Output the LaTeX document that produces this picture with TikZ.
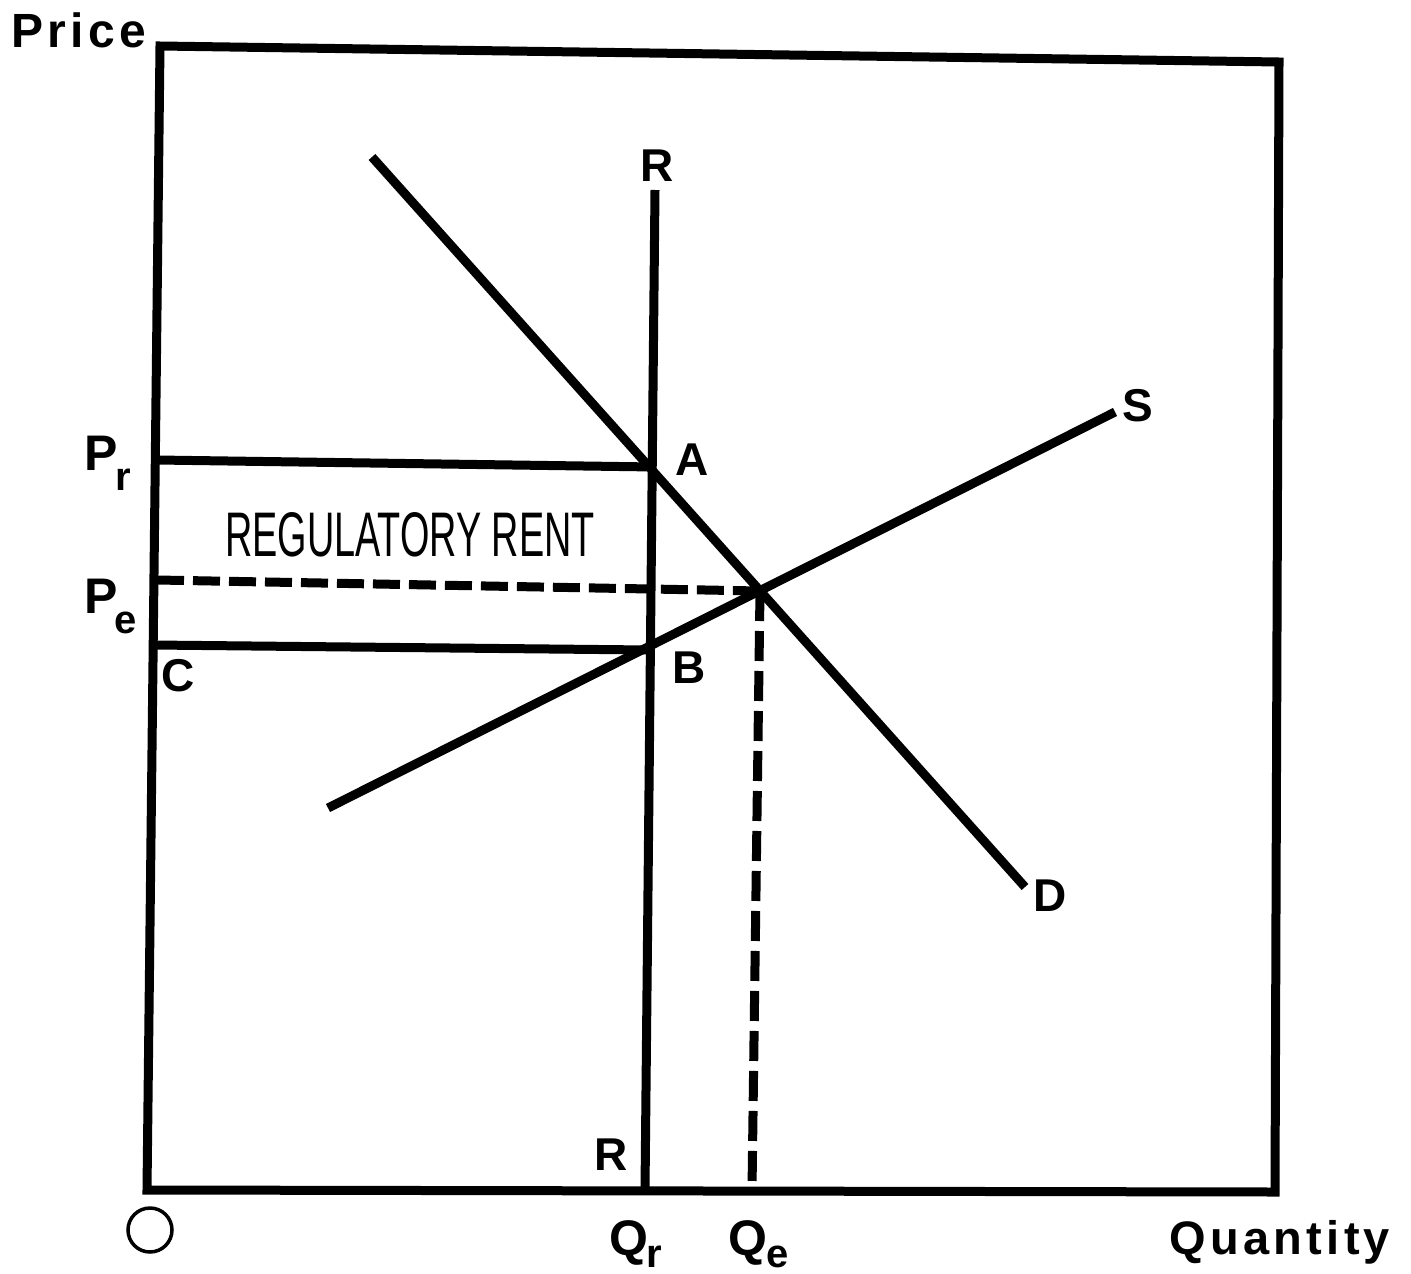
\documentclass[tikz,border=0pt]{standalone}
\usepackage{fontspec}
\setmainfont{Liberation Sans}
\newcommand\lbl{\fontsize{46}{46}\selectfont\bfseries}
\newcommand\sbl{\fontsize{40}{40}\selectfont\bfseries}
\newcommand\spaced{\addfontfeature{LetterSpace=9}}
\begin{document}
\begin{tikzpicture}[x=1pt,y=-1pt,
  curve/.style={line width=9pt},
  dashline/.style={line width=9pt, dash pattern=on 27pt off 9pt},
  txt/.style={inner sep=0pt, font=\lbl}]
\useasboundingbox (0,0) rectangle (1411,1274);
% frame
\coordinate (tl) at (160,46);
\coordinate (tr) at (1279,62);
\coordinate (br) at (1275,1192);
\coordinate (bl) at (147,1190);
\draw[curve, line join=miter] (tl) -- (tr) -- (br) -- (bl) -- cycle;
% axis labels
\node[txt, font=\fontsize{48}{48}\selectfont\bfseries\spaced] (price) at (79,30) {Price};
\node[txt, font=\fontsize{47}{47}\selectfont\bfseries\spaced] (qty) at (1280,1242) {Quantity};
\draw[line width=3.5pt] (150,1230) circle[radius=22pt];
\node[inner sep=0pt] (origin) at (150,1230) {};
% R line
\coordinate (rtop) at (655,190);
\coordinate (rbot) at (645,1190);
\draw[curve] (rtop) -- (rbot);
\node[txt] (rlabtop) at (657,166) {R};
\node[txt] (rlabbot) at (611,1155) {R};
% demand and supply
\coordinate (d1) at (372,157);
\coordinate (d2) at (1025,887);
\coordinate (s1) at (328,808);
\coordinate (s2) at (1115,412);
\draw[curve] (d1) -- (d2);
\draw[curve] (s1) -- (s2);
\node[txt] (dlab) at (1050,896) {D};
\node[txt] (slab) at (1138,406) {S};
% price lines
\coordinate (pr0) at (157,460);
\coordinate (prA) at (655,467);
\coordinate (c0) at (153,645);
\coordinate (cB) at (649,650);
\coordinate (pe0) at (157,580);
\coordinate (E) at (760,591);
\coordinate (qe) at (752,1190);
\draw[curve] (pr0) -- (prA);
\draw[curve] (c0) -- (cB);
\draw[dashline] (pe0) -- (E);
\draw[dashline, dash pattern=on 30pt off 10pt] (E) -- (qe);
% point labels
\node[txt] (alab) at (692,460) {A};
\node[txt] (blab) at (689,668) {B};
\node[txt] (clab) at (178,676) {C};
% axis value labels
\node[txt, anchor=base west, font=\fontsize{50}{50}\selectfont\bfseries] (prlab) at (84,470) {P\kern-2pt\raisebox{-20pt}{\sbl r}};
\node[txt, anchor=base west, font=\fontsize{50}{50}\selectfont\bfseries] (pelab) at (84,613) {P\kern-3pt\raisebox{-20pt}{\sbl e}};
\node[txt, anchor=base west, font=\fontsize{50}{50}\selectfont\bfseries] (qrlab) at (609,1255) {Q\kern-2pt\raisebox{-12pt}{\sbl r}};
\node[txt, anchor=base west, font=\fontsize{50}{50}\selectfont\bfseries] (qelab) at (728,1255) {Q\kern-1pt\raisebox{-12pt}{\sbl e}};
% rent label
\node[inner sep=0pt] (rent) at (410,535) {\scalebox{0.6}[1]{\fontsize{63}{63}\selectfont REGULATORY RENT}};
\end{tikzpicture}
\end{document}
